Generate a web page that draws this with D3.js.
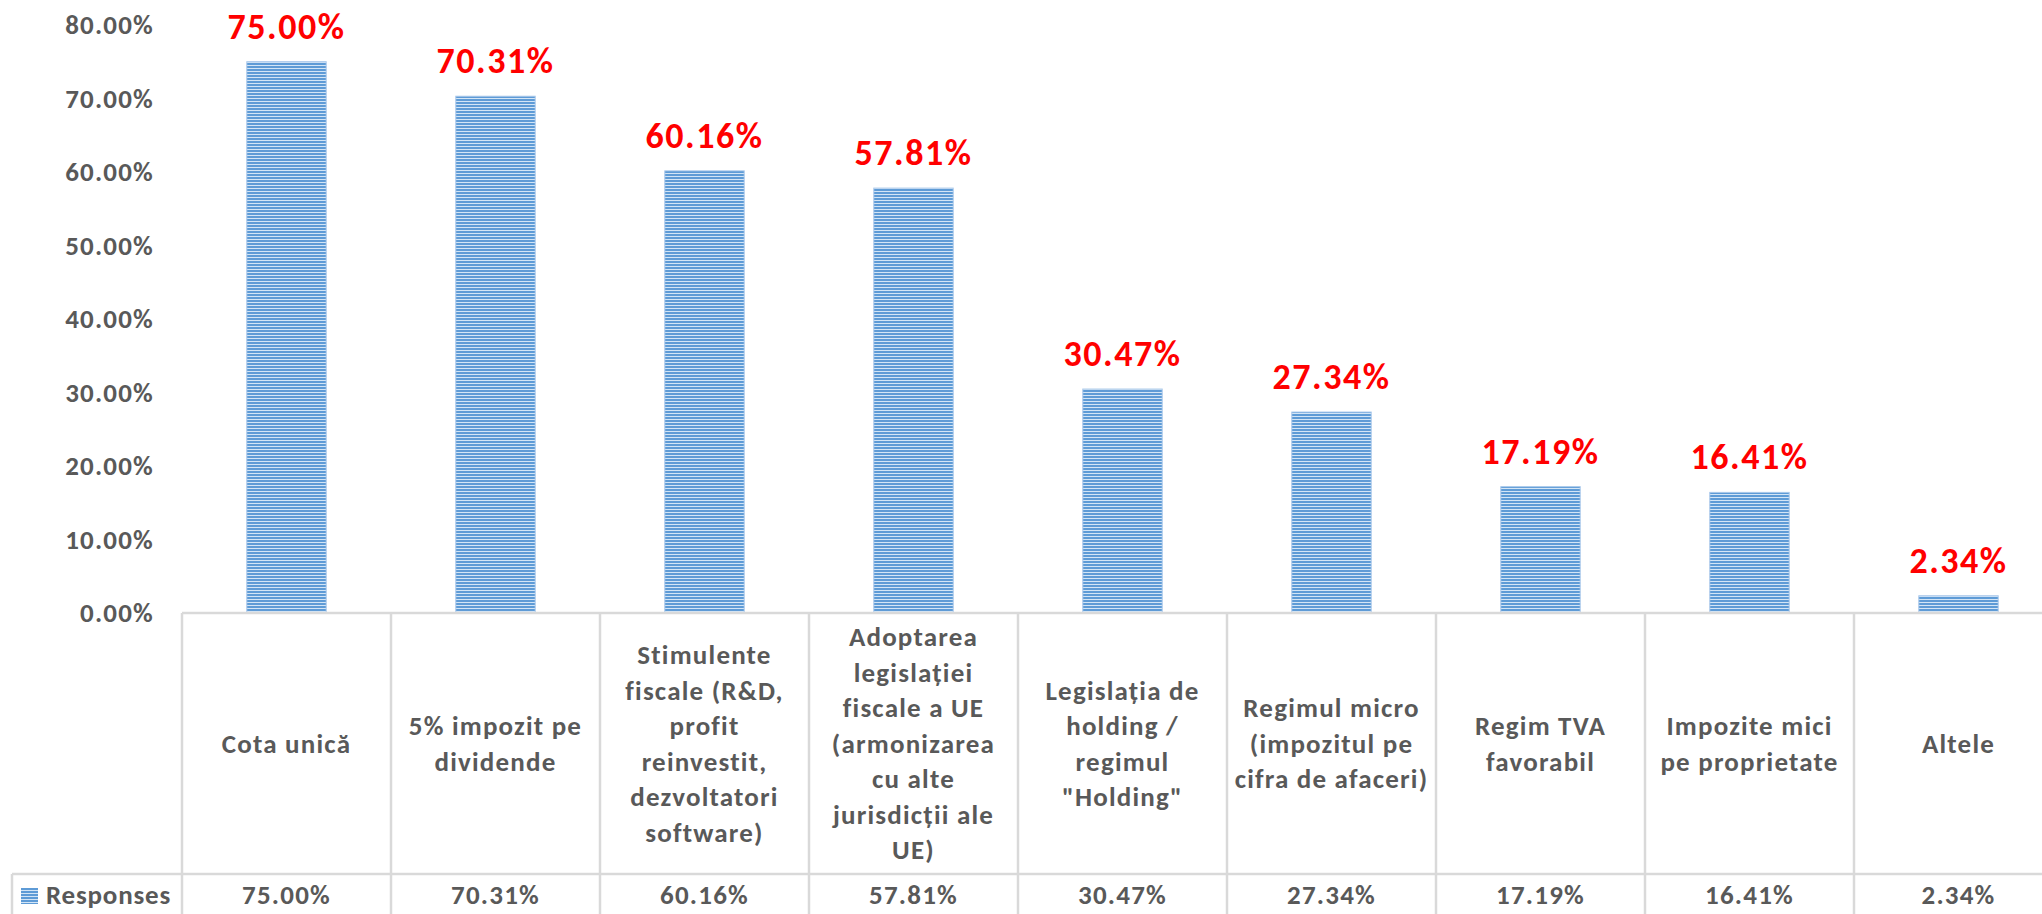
<!DOCTYPE html>
<html>
<head>
<meta charset="utf-8">
<script src="https://cdn.jsdelivr.net/npm/d3@7"></script>
<style>
  body { margin: 0; background: #fff; }
  svg { display: block; font-family: Carlito, Lato, "Open Sans", sans-serif; font-weight: bold; }
</style>
</head>
<body>
<svg id="chart" width="2042" height="914"></svg>
<script>
const categories = [
  "Cota unică",
  "5% impozit pe\ndividende",
  "Stimulente\nfiscale (R&D,\nprofit\nreinvestit,\ndezvoltatori\nsoftware)",
  "Adoptarea\nlegislației\nfiscale a UE\n(armonizarea\ncu alte\njurisdicții ale\nUE)",
  "Legislația de\nholding /\nregimul\n\"Holding\"",
  "Regimul micro\n(impozitul pe\ncifra de afaceri)",
  "Regim TVA\nfavorabil",
  "Impozite mici\npe proprietate",
  "Altele"
];
const values = [75.00, 70.31, 60.16, 57.81, 30.47, 27.34, 17.19, 16.41, 2.34];
const yTicks = [0, 10, 20, 30, 40, 50, 60, 70, 80];
const seriesName = "Responses";

const svg = d3.select("#chart");
const W = 2042, H = 914;
const plotLeft = 182, colW = 209;
const baseY = 613, topY = 25;
const rowY = 874;
const gridColor = "#D9D9D9";
const textColor = "#595959";

// pattern
const defs = svg.append("defs");
const pat = defs.append("pattern").attr("id", "stripes")
  .attr("patternUnits", "userSpaceOnUse").attr("width", 6).attr("height", 3);
pat.append("rect").attr("width", 6).attr("height", 3).attr("fill", "#5E9BD6");
pat.append("rect").attr("y", 2).attr("width", 6).attr("height", 1).attr("fill", "#D3E5F6");

const x = d3.scaleBand().domain(categories)
  .range([plotLeft, plotLeft + colW * categories.length]).padding(0);
const y = d3.scaleLinear().domain([0, 80]).range([baseY, topY]);
const barW = x.bandwidth() * 0.38;

// y axis
const yAxis = d3.axisLeft(y).tickValues(yTicks).tickSize(0).tickPadding(28)
  .tickFormat(d => d3.format(".2f")(d) + "%");
const ya = svg.append("g").attr("transform", `translate(${plotLeft},0)`).call(yAxis);
ya.select(".domain").remove();
ya.selectAll("text").attr("fill", textColor).style("font-size", "27px")
  .style("letter-spacing", "1.2px")
  .style("font-family", "Carlito, Lato, sans-serif").style("font-weight", "bold");

// bars
svg.append("g").selectAll("rect").data(values).join("rect")
  .attr("x", (d, i) => x(categories[i]) + (x.bandwidth() - barW) / 2)
  .attr("y", d => y(d))
  .attr("width", barW)
  .attr("height", d => y(0) - y(d))
  .attr("fill", "url(#stripes)")
  .attr("stroke", "#A9C8EA").attr("stroke-width", 1);

// data labels
svg.append("g").selectAll("text").data(values).join("text")
  .attr("x", (d, i) => x(categories[i]) + x.bandwidth() / 2)
  .attr("y", d => y(d) - 23)
  .attr("text-anchor", "middle")
  .attr("fill", "#FF0000")
  .style("font-size", "36px")
  .style("letter-spacing", "1.5px")
  .text(d => d3.format(".2f")(d) + "%");

// table grid
const g = svg.append("g").attr("stroke", gridColor).attr("stroke-width", 2.5);
g.append("line").attr("x1", plotLeft).attr("x2", W).attr("y1", baseY).attr("y2", baseY);
g.append("line").attr("x1", 12).attr("x2", W).attr("y1", rowY).attr("y2", rowY);
g.append("line").attr("x1", 12).attr("x2", 12).attr("y1", rowY).attr("y2", H);
g.selectAll("line.v").data(categories).join("line").attr("class", "v")
  .attr("x1", d => x(d)).attr("x2", d => x(d)).attr("y1", baseY).attr("y2", H);

// category labels
const lineH = 35.5;
const midY = (baseY + rowY) / 2;
const cat = svg.append("g").selectAll("text").data(categories).join("text")
  .attr("text-anchor", "middle")
  .attr("fill", textColor)
  .style("font-size", "27px")
  .style("letter-spacing", "1.2px");
cat.each(function(d) {
  const lines = d.split("\n");
  const t = d3.select(this);
  const cx = x(d) + x.bandwidth() / 2;
  const y0 = midY - (lines.length - 1) * lineH / 2;
  lines.forEach((ln, k) => {
    t.append("tspan").attr("x", cx).attr("y", y0 + k * lineH).attr("dy", "0.35em").text(ln);
  });
});

// table values row
svg.append("g").selectAll("text").data(values).join("text")
  .attr("x", (d, i) => x(categories[i]) + x.bandwidth() / 2)
  .attr("y", 904)
  .attr("text-anchor", "middle")
  .attr("fill", textColor)
  .style("font-size", "27px")
  .style("letter-spacing", "1.2px")
  .text(d => d3.format(".2f")(d) + "%");

// legend key
svg.append("rect").attr("x", 21).attr("y", 888).attr("width", 17).attr("height", 16)
  .attr("fill", "url(#stripes)");
svg.append("text").attr("x", 46).attr("y", 904).attr("fill", textColor)
  .style("font-size", "27px").style("letter-spacing", "0.8px").text(seriesName);
</script>
</body>
</html>
